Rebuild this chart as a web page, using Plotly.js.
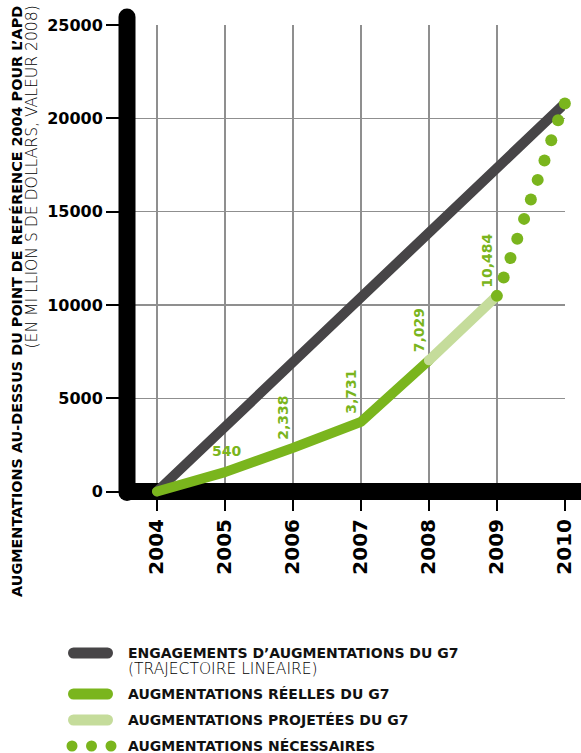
<!DOCTYPE html>
<html>
<head>
<meta charset="utf-8">
<script src="https://cdn.plot.ly/plotly-3.0.1.min.js"></script>
<style>
  html, body { margin: 0; padding: 0; background: #ffffff; }
  #chart { width: 581px; height: 753px; }
  .scatterlayer .js-line { stroke-linecap: round !important; stroke-linejoin: round !important; }
  .shapelayer path { stroke-linecap: round !important; stroke-linejoin: round !important; }
</style>
</head>
<body>
<div id="chart"></div>
<script>
// ---------- data ----------
const years = [2004, 2005, 2006, 2007, 2008, 2009, 2010];
const yearLabels = ['2004', '2005', '2006', '2007', '2008', '2009', '2010'];

const yTickValues = [0, 5000, 10000, 15000, 20000, 25000];
const yTickLabels = ['0', '5000', '10000', '15000', '20000', '25000'];

// G7 commitments (linear trajectory)
const engagementYears = [2004, 2010];
const engagementValues = [0, 20800];

// actual G7 increases
const actualYears = [2004, 2005, 2006, 2007, 2008];
const actualValues = [0, 1040, 2338, 3731, 7029];

// projected G7 increases
const projectedYears = [2008, 2009];
const projectedValues = [7029, 10484];

// necessary increases (dots as drawn)
const necessaryYears = [2009.0, 2009.1, 2009.2, 2009.3, 2009.4, 2009.5, 2009.6, 2009.7, 2009.8, 2009.9, 2010.0];
const necessaryValues = [10484, 11470, 12510, 13550, 14610, 15650, 16700, 17740, 18820, 19890, 20790];

// value labels
const labelYears = [2005, 2006, 2007, 2008, 2009];
const labelValues = [1040, 2338, 3731, 7029, 10484];
const labelTexts = ['540', '2,338', '3,731', '7,029', '10,484'];

const legendLabels = [
  'ENGAGEMENTS D\u2019AUGMENTATIONS DU G7',
  'AUGMENTATIONS RÉELLES DU G7',
  'AUGMENTATIONS PROJETÉES DU G7',
  'AUGMENTATIONS NÉCESSAIRES'
];
const legendSubLabel = '(TRAJECTOIRE LINEAIRE)';

const yTitleMain = 'AUGMENTATIONS AU-DESSUS DU POINT DE REFÉRENCE 2004 POUR L\u2019APD';
const yTitleSub = '(EN MI LLION S DE DOLLARS, VALEUR 2008)';

// ---------- styling ----------
const DARK = '#474547';
const GREEN = '#7ab51d';
const LIGHT = '#c5dc9b';
const GRID = '#8f8f8f';
const FONT = 'DejaVu Sans';

// plot box in pixels
const W = 581, H = 753;
const L = 127, R = 565, T = 25, B = 499;
const ZERO_PX = 491.5;            // pixel row of value 0 (centre of the thick base line)
const TOP_VAL = 25000;            // value at the top of the grid
const yMin = -(B - ZERO_PX) / (ZERO_PX - T) * TOP_VAL;
const px = p => (p - L) / (R - L);
const py = p => (B - p) / (B - T);

const traces = [
  { x: engagementYears, y: engagementValues, mode: 'lines', line: { color: DARK, width: 10 }, hoverinfo: 'skip', showlegend: false },
  { x: actualYears, y: actualValues, mode: 'lines', line: { color: GREEN, width: 10 }, hoverinfo: 'skip', showlegend: false },
  { x: projectedYears, y: projectedValues, mode: 'lines', line: { color: LIGHT, width: 10 }, hoverinfo: 'skip', showlegend: false },
  { x: necessaryYears, y: necessaryValues, mode: 'markers', marker: { color: GREEN, size: 12 }, cliponaxis: false, hoverinfo: 'skip', showlegend: false }
];

const annotations = [];
labelTexts.forEach((t, i) => {
  const horiz = i === 0;
  annotations.push({
    x: labelYears[i], y: labelValues[i], xref: 'x', yref: 'y',
    text: t, showarrow: false,
    textangle: horiz ? 0 : -90,
    xanchor: 'center', yanchor: 'bottom',
    xshift: horiz ? 2 : -10, yshift: horiz ? 11 : 6,
    font: { family: FONT, size: 14, weight: 'bold', color: GREEN }
  });
});

// y title (two lines)
annotations.push({
  x: px(16.5), y: py(4), xref: 'paper', yref: 'paper', showarrow: false,
  text: yTitleMain, textangle: -90, xanchor: 'center', yanchor: 'top',
  font: { family: FONT, size: 14.4, weight: 'bold', color: '#000' }
});
annotations.push({
  x: px(31), y: py(4), xref: 'paper', yref: 'paper', showarrow: false,
  text: yTitleSub, textangle: -90, xanchor: 'center', yanchor: 'top',
  font: { family: FONT, size: 15.6, weight: 200, color: '#000' }
});

// legend
const legendRowsY = [653, 694, 720, 746];
legendLabels.forEach((t, i) => {
  annotations.push({
    x: px(126), y: py(legendRowsY[i]), xref: 'paper', yref: 'paper', showarrow: false,
    text: t, xanchor: 'left', yanchor: 'middle',
    font: { family: FONT, size: 14, weight: 'bold', color: '#111' }
  });
});
annotations.push({
  x: px(126), y: py(669), xref: 'paper', yref: 'paper', showarrow: false,
  text: legendSubLabel, xanchor: 'left', yanchor: 'middle',
  font: { family: FONT, size: 15.5, weight: 200, color: '#000' }
});

const shapes = [
  // thick black vertical axis bar (left of all traces)
  { type: 'line', xref: 'paper', yref: 'paper', layer: 'above',
    x0: px(127), x1: px(127), y0: py(17), y1: py(ZERO_PX + 1), line: { color: '#000', width: 17 } },
  // extension of the base bar to the right of the grid
  { type: 'line', xref: 'paper', yref: 'paper', layer: 'above',
    x0: px(560), x1: px(620), y0: py(ZERO_PX), y1: py(ZERO_PX), line: { color: '#000', width: 17 } }
];
const legendColors = [DARK, GREEN, LIGHT];
legendColors.forEach((c, i) => {
  shapes.push({ type: 'line', xref: 'paper', yref: 'paper', layer: 'above',
    x0: px(73.5), x1: px(107.5), y0: py(legendRowsY[i]), y1: py(legendRowsY[i]),
    line: { color: c, width: 11 } });
});
[72, 91.5, 111].forEach(cx => {
  shapes.push({ type: 'circle', xref: 'paper', yref: 'paper', layer: 'above',
    x0: px(cx - 5.5), x1: px(cx + 5.5), y0: py(746 - 5.5), y1: py(746 + 5.5),
    fillcolor: GREEN, line: { width: 0 } });
});

const layout = {
  width: W, height: H,
  margin: { l: L, r: W - R, t: T, b: H - B, pad: 0 },
  paper_bgcolor: '#ffffff', plot_bgcolor: '#ffffff',
  showlegend: false,
  xaxis: {
    range: [2004 - 30 / 68, 2010.002],
    tickmode: 'array', tickvals: years, ticktext: yearLabels,
    tickangle: -90, ticks: 'outside', ticklen: 11, tickwidth: 2, tickcolor: '#000',
    showgrid: true, gridcolor: GRID, gridwidth: 1.3,
    zeroline: false, showline: false, fixedrange: true,
    tickfont: { family: FONT, size: 20, weight: 'bold', color: '#000' }
  },
  yaxis: {
    range: [yMin, TOP_VAL + 0.5],
    tickmode: 'array', tickvals: yTickValues, ticktext: yTickLabels,
    ticks: 'outside', ticklen: 20, tickwidth: 2, tickcolor: '#000',
    showgrid: true, gridcolor: GRID, gridwidth: 1.3,
    zeroline: true, zerolinecolor: '#000', zerolinewidth: 17,
    showline: false, fixedrange: true,
    tickfont: { family: FONT, size: 16, weight: 'bold', color: '#000' }
  },
  annotations: annotations,
  shapes: shapes
};

Plotly.newPlot('chart', traces, layout, { staticPlot: true, displayModeBar: false });
</script>
</body>
</html>
